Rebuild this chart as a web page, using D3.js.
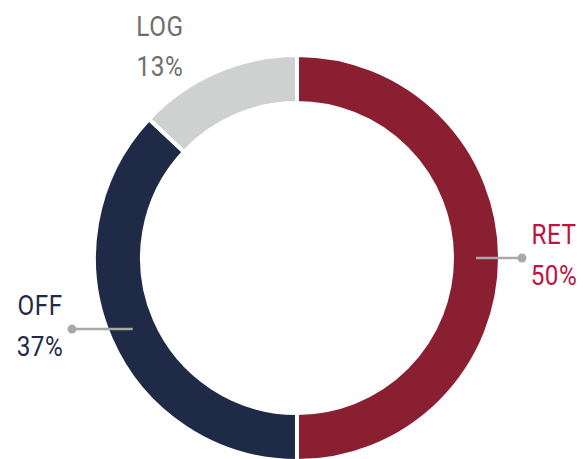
<!DOCTYPE html>
<html>
<head>
<meta charset="utf-8">
<script src="https://cdn.jsdelivr.net/npm/d3@7"></script>
<style>
  html, body { margin: 0; padding: 0; background: #fff; }
  svg { display: block; }
  text { font-family: "Roboto", "Liberation Sans", sans-serif; font-weight: 400; }
</style>
</head>
<body>
<svg id="chart" width="583" height="459"></svg>
<script>
// Share of each unit, drawn clockwise from 12 o'clock
const categories = ["RET", "OFF", "LOG"];
const shares = [50, 37, 13];
const sliceColors = ["#8B1F32", "#1F2A47", "#CFD1D0"];
const labelColors = ["#C2123F", "#1F2A47", "#6E6E6E"];

const width = 583, height = 459;
const cx = 297, cy = 258;
const outerR = 203, innerR = 155;

const svg = d3.select("#chart");
const g = svg.append("g").attr("transform", `translate(${cx},${cy})`);

const pie = d3.pie().sort(null).value(d => d.value);
const arcs = pie(categories.map((c, i) => ({ name: c, value: shares[i], i })));

const arc = d3.arc().innerRadius(innerR).outerRadius(outerR);

// ring segments separated by thin white gaps
g.selectAll("path.slice")
  .data(arcs)
  .join("path")
  .attr("class", "slice")
  .attr("d", arc)
  .attr("fill", d => sliceColors[d.data.i])
  .attr("stroke", "#fff")
  .attr("stroke-width", 4)
  .attr("stroke-linejoin", "miter");

const midR = (innerR + outerR) / 2;
const dotR = 225;
const fmt = d => `${d}%`;
const fs = 27;

// condensed label text
function label(x, y, str, col) {
  g.append("text")
    .attr("transform", `translate(${x},${y}) scale(0.9,1)`)
    .attr("text-anchor", "middle")
    .attr("font-size", fs)
    .attr("letter-spacing", 0.6)
    .attr("fill", col)
    .text(str);
}

arcs.forEach(d => {
  const i = d.data.i;
  const mid = (d.startAngle + d.endAngle) / 2;
  const px = Math.sin(mid) * midR;
  const py = -Math.cos(mid) * midR;
  const col = labelColors[i];

  if (d.data.value >= 20) {
    // leader line from the segment's centre to a dot, label stacked around it
    const side = px >= 0 ? 1 : -1;
    const dx = side * dotR;
    g.append("line")
      .attr("x1", px).attr("y1", py)
      .attr("x2", dx).attr("y2", py)
      .attr("stroke", "#A9A9A9").attr("stroke-width", 2.5);
    g.append("circle")
      .attr("cx", dx).attr("cy", py).attr("r", 4.5)
      .attr("fill", "#A9A9A9");
    const tx = dx + side * 32;
    label(tx, py - 14, d.data.name, col);
    label(tx, py + 27, fmt(d.data.value), col);
  } else {
    // small segment: label placed above the ring without a leader
    const tx = px - 66;
    label(tx, -222, d.data.name, col);
    label(tx, -182, fmt(d.data.value), col);
  }
});
</script>
</body>
</html>
